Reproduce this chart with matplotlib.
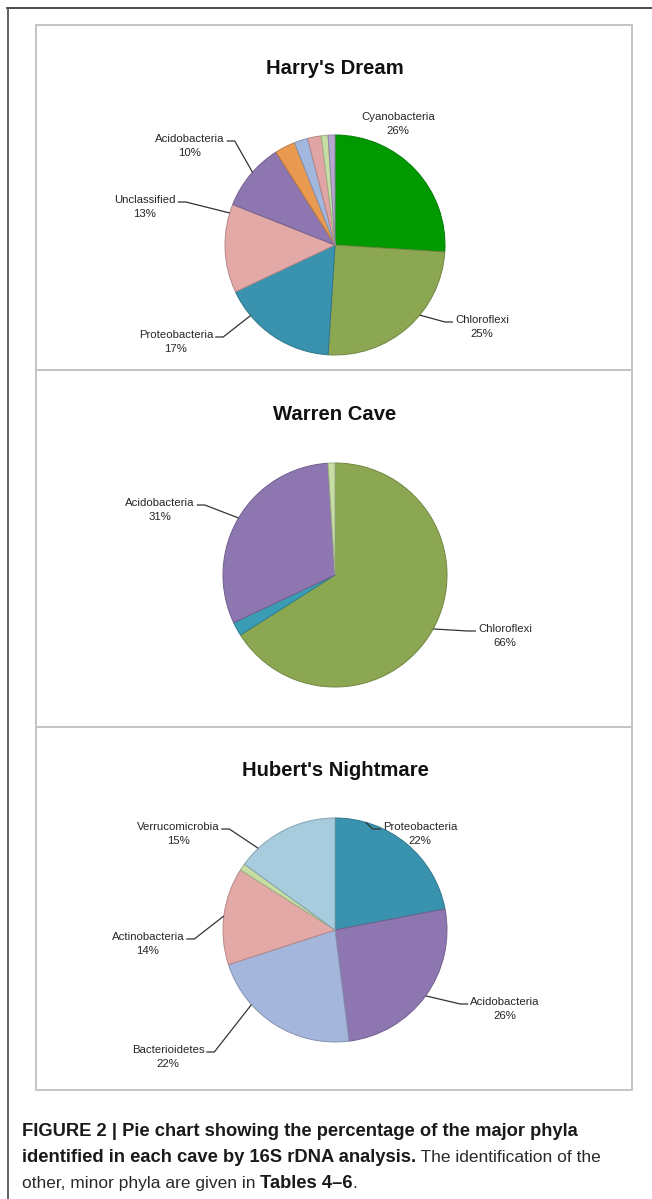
import numpy as np
import matplotlib
matplotlib.use('Agg')
from matplotlib import pyplot as plt
from matplotlib.patches import Rectangle

W, H = 652, 1199

# data (percent of clones per phylum)
harry_names = ['Cyanobacteria', 'Chloroflexi', 'Proteobacteria', 'Unclassified', 'Acidobacteria',
               '', '', '', '', '']
harry_values = [26, 25, 17, 13, 10, 3, 2, 2, 1, 1]
harry_colors = ['#009a00', '#8ca752', '#3a93ae', '#e3a9a7', '#8e77b0',
                '#ea9a50', '#a2b7de', '#e1a5a5', '#c6dda4', '#b5a8d0']

warren_names = ['Chloroflexi', '', 'Acidobacteria', '']
warren_values = [66, 2, 31, 1]
warren_colors = ['#8ca752', '#3a9db5', '#8e77b0', '#c6dda4']

hubert_names = ['Proteobacteria', 'Acidobacteria', 'Bacterioidetes', 'Actinobacteria', '', 'Verrucomicrobia']
hubert_values = [22, 26, 22, 14, 1, 15]
hubert_colors = ['#3a93ae', '#8e77b0', '#a5b6dc', '#e3a9a7', '#c6dda4', '#a7ccdd']

panel_titles = ["Harry's Dream", 'Warren Cave', "Hubert's Nightmare"]

# layout (pixels from top-left)
panels = [(25, 370), (370, 727), (727, 1090)]
box_x0, box_x1 = 36, 632
pie_centers = [(335, 245), (335, 575), (335, 930)]
pie_radius = [110, 112, 112]
title_y = [68, 415, 771]

# label placement: name -> (text centre x, top y, leader side, where on the wedge arc the leader ends)
harry_layout = {'Cyanobacteria': (398, 112, None, 0),
                'Chloroflexi': (482, 315, 'left', 0.4),
                'Proteobacteria': (176, 330, 'right', 0.76),
                'Unclassified': (145, 195, 'right', 0.9),
                'Acidobacteria': (190, 134, 'right', 0.55)}
warren_layout = {'Acidobacteria': (160, 498, 'right', 0.5),
                 'Chloroflexi': (505, 624, 'left', 0.5)}
hubert_layout = {'Proteobacteria': (420, 822, 'left', 0.2),
                 'Verrucomicrobia': (178, 822, 'right', 0.2),
                 'Actinobacteria': (148, 932, 'right', 0.5),
                 'Acidobacteria': (505, 997, 'left', 0.5),
                 'Bacterioidetes': (168, 1045, 'right', 0.7)}

LABEL_FONT = dict(family='Liberation Sans', size=8.2, color='#262626')
TEXT_COLOR = '#1a1a1a'


def darker(hex_color, f=0.75):
    c = np.array(matplotlib.colors.to_rgb(hex_color))
    return tuple(c * f)


def draw_pie(ax, renderer, names, values, colors, layout, center, radius):
    cx, cy = center
    wedges, _ = ax.pie(values, colors=colors, startangle=90, counterclock=False,
                       center=(cx, H - cy), radius=radius, frame=True,
                       wedgeprops=dict(linewidth=0.7))
    for w, c in zip(wedges, colors):
        w.set_edgecolor(darker(c, 0.8))

    total = float(sum(values))
    cum = np.cumsum([0] + list(values))
    for i, name in enumerate(names):
        if name not in layout:
            continue
        tx, ty, side, frac = layout[name]
        t = ax.text(tx, H - ty, '{}\n{}%'.format(name, values[i]), ha='center', va='top',
                    linespacing=1.45, **LABEL_FONT)
        if side is None:
            continue
        bb = t.get_window_extent(renderer).transformed(ax.transData.inverted())
        ly = H - ty - 7
        theta = np.deg2rad(360.0 * (cum[i] + values[i] * frac) / total)
        ex = cx + radius * np.sin(theta)
        ey = H - cy + radius * np.cos(theta)
        if side == 'right':
            sx = bb.x1 + 2
            kx = sx + 8
        else:
            sx = bb.x0 - 2
            kx = sx - 8
        ax.plot([sx, kx, ex], [ly, ly, ey], color='#333333', lw=0.9, solid_capstyle='butt')


def draw_runs(ax, renderer, x, y, runs):
    for text, weight in runs:
        if weight == 'bold':
            size, col = 13.2, TEXT_COLOR
        else:
            size, col = 12.5, '#2a2a2a'
        t = ax.text(x, H - y, text, ha='left', va='baseline', family='Liberation Sans',
                    fontsize=size, fontweight=weight, color=col)
        bb = t.get_window_extent(renderer).transformed(ax.transData.inverted())
        x = bb.x1


fig = plt.figure(figsize=(W / 100.0, H / 100.0), dpi=100)
ax = fig.add_axes([0, 0, 1, 1])
ax.set_xlim(0, W)
ax.set_ylim(0, H)
renderer = fig.canvas.get_renderer()

# outer frame (top and left rules)
ax.plot([7, W], [H - 8, H - 8], color='#3c3c3c', lw=1.3)
ax.plot([7.5, 7.5], [H - 8, 0], color='#555555', lw=1.3)

# panel boxes
for (y0, y1) in panels:
    ax.add_patch(Rectangle((box_x0, H - y1), box_x1 - box_x0, y1 - y0, fill=False,
                           edgecolor='#c4c4c4', lw=1.4))

for title, ty in zip(panel_titles, title_y):
    ax.text(335, H - ty, title, ha='center', va='center', family='Liberation Sans',
            fontsize=14.6, fontweight='bold', color='#111111')

draw_pie(ax, renderer, harry_names, harry_values, harry_colors, harry_layout,
         pie_centers[0], pie_radius[0])
draw_pie(ax, renderer, warren_names, warren_values, warren_colors, warren_layout,
         pie_centers[1], pie_radius[1])
draw_pie(ax, renderer, hubert_names, hubert_values, hubert_colors, hubert_layout,
         pie_centers[2], pie_radius[2])

ax.set_xlim(0, W)
ax.set_ylim(0, H)
ax.set_aspect('auto')
ax.axis('off')

# caption
draw_runs(ax, renderer, 22, 1136,
          [('FIGURE 2 | Pie chart showing the percentage of the major phyla', 'bold')])
draw_runs(ax, renderer, 22, 1162,
          [('identified in each cave by 16S rDNA analysis.', 'bold'),
           (' The identification of the', 'normal')])
draw_runs(ax, renderer, 22, 1188,
          [('other, minor phyla are given in ', 'normal'), ('Tables 4\u20136', 'bold'),
           ('.', 'normal')])

fig.savefig('out.png', dpi=100, facecolor='white')
